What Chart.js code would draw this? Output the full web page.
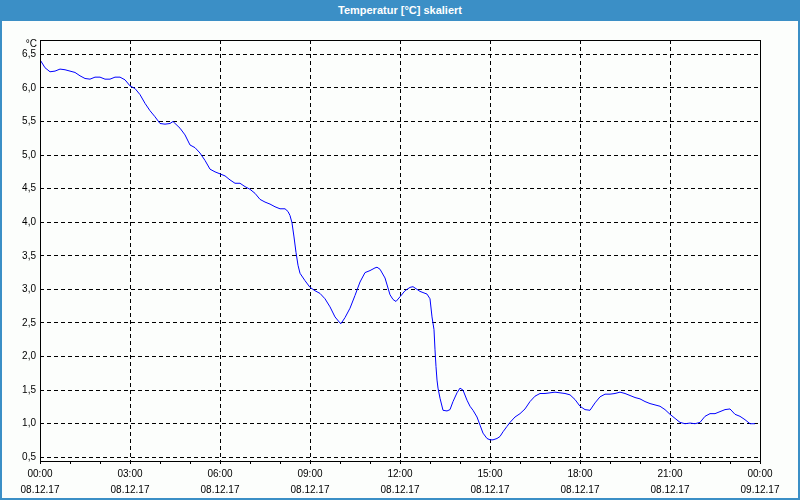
<!DOCTYPE html>
<html>
<head>
<meta charset="utf-8">
<script src="https://cdn.jsdelivr.net/npm/chart.js@4.4.0/dist/chart.umd.min.js"></script>
<style>
  html, body { margin: 0; padding: 0; background: #fcfefc; }
  #wrap { position: relative; width: 800px; height: 500px; overflow: hidden; }
  #c { position: absolute; left: 0; top: 0; }
  #titlebar { position: absolute; left: 0; top: 0; width: 800px; height: 21px; background: #3b8fc6;
    color: #fff; font: bold 11px "Liberation Sans", Arial, sans-serif; line-height: 20px; text-align: center; }
  #frame { position: absolute; left: 0; top: 0; width: 800px; height: 500px; box-sizing: border-box;
    border: 2px solid #3b8fc6; border-top: none; pointer-events: none; }
</style>
</head>
<body>
<div id="wrap">
  <canvas id="c" width="800" height="500"></canvas>
  <div id="titlebar">Temperatur [°C] skaliert</div>
  <div id="frame"></div>
</div>
<script>
// minutes since 08.12.17 00:00
const minutes = [0,10,20,30,40,50,60,70,80,90,100,110,120,130,140,150,160,170,180,190,200,210,220,230,240,250,260,266,280,290,300,310,320,330,340,350,360,370,380,390,400,410,420,430,440,450,460,470,480,490,496,500,504,508,512,516,520,530,540,550,560,570,580,590,600,602,610,620,630,640,650,660,670,674,680,690,700,706,712,720,730,740,746,754,760,774,780,784,788,790,792,794,796,800,806,814,820,826,834,840,846,854,860,866,874,880,886,894,900,906,914,920,926,934,940,950,960,970,980,990,1000,1010,1020,1030,1040,1050,1060,1070,1080,1090,1100,1110,1120,1130,1140,1150,1160,1170,1180,1190,1200,1210,1220,1230,1240,1250,1260,1270,1280,1290,1300,1310,1320,1330,1340,1350,1360,1370,1380,1390,1400,1410,1420,1430];
const temps = [6.42,6.30,6.24,6.25,6.28,6.27,6.25,6.23,6.18,6.14,6.13,6.16,6.16,6.13,6.13,6.16,6.16,6.12,6.03,5.99,5.90,5.77,5.66,5.57,5.47,5.46,5.47,5.50,5.40,5.30,5.15,5.11,5.03,4.92,4.79,4.75,4.72,4.69,4.63,4.58,4.58,4.53,4.49,4.43,4.34,4.30,4.27,4.23,4.20,4.20,4.16,4.10,3.99,3.78,3.55,3.36,3.24,3.13,3.03,2.98,2.94,2.86,2.74,2.59,2.50,2.49,2.58,2.72,2.91,3.11,3.25,3.28,3.32,3.33,3.30,3.17,2.92,2.85,2.82,2.89,2.98,3.03,3.04,3.00,2.97,2.93,2.86,2.59,2.40,2.10,1.85,1.65,1.53,1.38,1.20,1.19,1.21,1.33,1.46,1.53,1.50,1.35,1.26,1.20,1.10,0.98,0.86,0.78,0.76,0.76,0.78,0.81,0.88,0.96,1.02,1.10,1.15,1.22,1.33,1.41,1.45,1.45,1.46,1.47,1.46,1.45,1.43,1.36,1.26,1.21,1.20,1.31,1.40,1.44,1.44,1.45,1.47,1.45,1.42,1.39,1.37,1.33,1.30,1.28,1.26,1.21,1.14,1.08,1.02,1.00,1.01,1.00,1.02,1.11,1.15,1.15,1.18,1.21,1.22,1.14,1.11,1.06,1.00,1.00];
const xTickLabels = [["00:00","08.12.17"],["03:00","08.12.17"],["06:00","08.12.17"],["09:00","08.12.17"],["12:00","08.12.17"],["15:00","08.12.17"],["18:00","08.12.17"],["21:00","08.12.17"],["00:00","09.12.17"]];
const yTicks = [0.5,1.0,1.5,2.0,2.5,3.0,3.5,4.0,4.5,5.0,5.5,6.0,6.5];
const yTickLabels = ["0,5","1,0","1,5","2,0","2,5","3,0","3,5","4,0","4,5","5,0","5,5","6,0","6,5"];
const yUnit = "°C";

const FONT = "Liberation Sans";

const framePlugin = {
  id: 'frame',
  afterDraw(chart) {
    const {ctx, chartArea: a} = chart;
    ctx.save();
    ctx.strokeStyle = '#000';
    ctx.lineWidth = 1;
    ctx.setLineDash([]);
    ctx.strokeRect(Math.round(a.left) + 0.5, Math.round(a.top) + 0.5, Math.round(a.right - a.left), Math.round(a.bottom - a.top));
    ctx.fillStyle = '#000';
    ctx.font = '10px "' + FONT + '"';
    ctx.textAlign = 'right';
    ctx.textBaseline = 'middle';
    ctx.fillText(yUnit, a.left - 3, a.top + 4);
    ctx.restore();
  }
};

new Chart(document.getElementById('c'), {
  type: 'line',
  data: {
    datasets: [{
      data: minutes.map((m, i) => ({x: m, y: temps[i]})),
      borderColor: '#0000ff',
      borderWidth: 1,
      pointRadius: 0,
      tension: 0,
      fill: false
    }]
  },
  options: {
    responsive: false,
    animation: false,
    devicePixelRatio: 1,
    layout: { padding: { top: 40, right: 40, left: 0, bottom: 0 } },
    plugins: { legend: { display: false }, tooltip: { enabled: false }, title: { display: false } },
    scales: {
      x: {
        type: 'linear',
        min: 0, max: 1440,
        afterFit(s) { s.height = 39; },
        afterBuildTicks(s) {
          const t = [];
          for (let m = 0; m <= 1440; m += 60) t.push({value: m});
          s.ticks = t;
        },
        ticks: {
          autoSkip: false, maxRotation: 0, minRotation: 0,
          padding: 2,
          color: '#000',
          font: { family: FONT, size: 10, lineHeight: 1.6 },
          callback(v) { return v % 180 === 0 ? xTickLabels[v / 180] : ''; }
        },
        grid: {
          color: (c) => (c.tick && c.tick.value % 180 === 0) ? '#000' : 'rgba(0,0,0,0)',
          tickColor: '#000',
          tickLength: 3,
          tickBorderDash: [],
          lineWidth: 1
        },
        border: { display: false, dash: [4, 3] }
      },
      y: {
        type: 'linear',
        min: 0.445, max: 6.713,
        afterFit(s) { s.width = 40; },
        afterBuildTicks(s) { s.ticks = yTicks.map(v => ({value: v})); },
        ticks: {
          padding: 4,
          color: '#000',
          font: { family: FONT, size: 10 },
          callback(v, i) { return yTickLabels[i]; }
        },
        grid: { color: '#000', drawTicks: false, lineWidth: 1 },
        border: { display: false, dash: [4, 3] }
      }
    }
  },
  plugins: [framePlugin]
});
</script>
</body>
</html>
